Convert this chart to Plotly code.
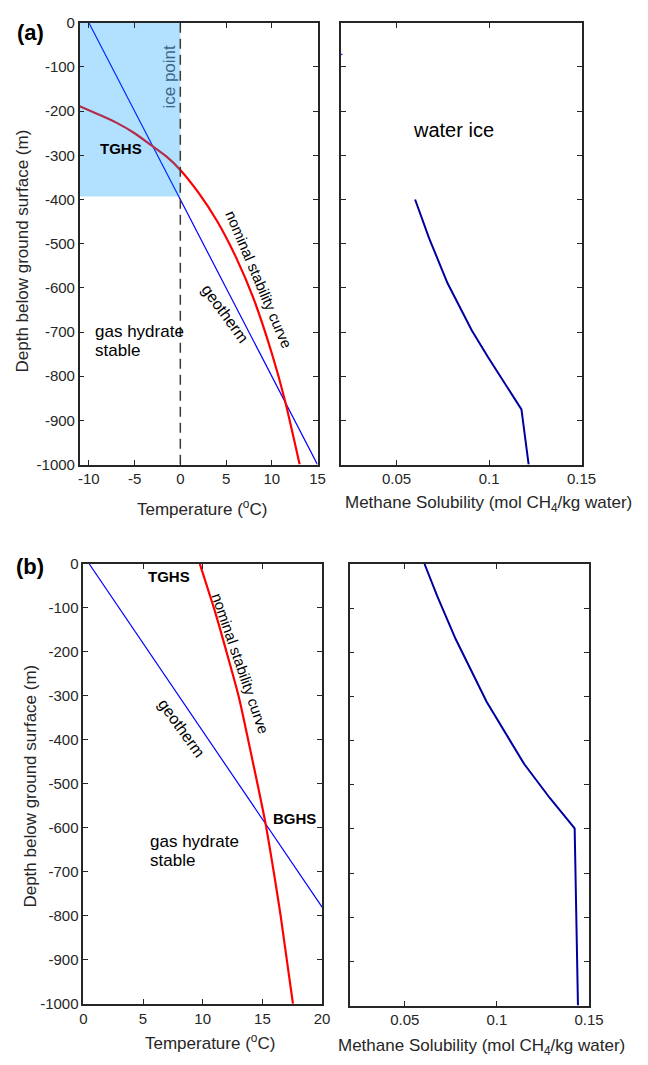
import plotly.graph_objects as go

# ---------------- data ----------------
# Panel (a): permafrost setting
geo_a_T = [-10, 15]
geo_a_d = [0, -1000]
stab_a_T = [-11.0, -9.0, -7.0, -5.0, -3.2, -1.5, 0.0, 2.0, 4.0, 6.0, 8.0, 10.0, 11.45, 13.05]
stab_a_d = [-189, -207, -226, -250, -277, -303, -333, -385, -448, -527, -624, -748, -856, -1000]
icept_T = [0, 0]
icept_d = [0, -1000]
frozen_T = [-11, 0, 0, -11, -11]
frozen_d = [0, 0, -393, -393, 0]
sol_a_x = [0.060, 0.0676, 0.0775, 0.0906, 0.0993, 0.1082, 0.1175, 0.1214]
sol_a_d = [-400, -488, -589, -696, -756, -815, -875, -1000]
sol_ice_x = [0.0200, 0.0207]
sol_ice_d = [-71, -72]

# Panel (b): marine setting
geo_b_T = [0.5, 20]
geo_b_d = [0, -780]
stab_b_T = [9.76, 11.05, 12.15, 13.05, 14.2, 15.25, 15.95, 16.53, 17.56]
stab_b_d = [0, -110, -215, -305, -450, -588, -700, -800, -1000]
sol_b_x = [0.0607, 0.0676, 0.0776, 0.0944, 0.1148, 0.1287, 0.1422, 0.1440]
sol_b_d = [0, -73, -170, -312, -453, -530, -599, -1000]

temp_ticks_a = [-10, -5, 0, 5, 10, 15]
temp_ticks_b = [0, 5, 10, 15, 20]
sol_ticks = [0.05, 0.1, 0.15]
sol_ticktext = ["0.05", "0.1", "0.15"]
depth_ticks = [0, -100, -200, -300, -400, -500, -600, -700, -800, -900, -1000]
depth_ticktext = [str(v) for v in depth_ticks]
temp_ticktext_a = [str(v) for v in temp_ticks_a]
temp_ticktext_b = [str(v) for v in temp_ticks_b]

# ---------------- figure ----------------
W, H = 648, 1065
FONT = "Liberation Sans, Arial, Helvetica, sans-serif"
AX = "#262626"
RED = "#ff0000"
BLUE = "#0000ff"
NAVY = "#0000a0"


def px_x(p):
    return p / W


def px_y(p):
    return 1 - p / H


fig = go.Figure()

# (a) left
fig.add_trace(go.Scatter(x=geo_a_T, y=geo_a_d, mode="lines",
                         line=dict(color=BLUE, width=1.2), xaxis="x", yaxis="y"))
fig.add_trace(go.Scatter(x=stab_a_T, y=stab_a_d, mode="lines",
                         line=dict(color=RED, width=2.2, shape="spline", smoothing=0.6),
                         xaxis="x", yaxis="y"))
fig.add_trace(go.Scatter(x=frozen_T, y=frozen_d, mode="lines", fill="toself",
                         fillcolor="rgba(0,152,255,0.30)", line=dict(width=0),
                         xaxis="x", yaxis="y"))
fig.add_trace(go.Scatter(x=icept_T, y=icept_d, mode="lines",
                         line=dict(color="#3a3a3a", width=1.5, dash="10px,6px"),
                         xaxis="x", yaxis="y"))
# (a) right
fig.add_trace(go.Scatter(x=sol_ice_x, y=sol_ice_d, mode="lines",
                         line=dict(color=BLUE, width=1.5), xaxis="x2", yaxis="y2"))
fig.add_trace(go.Scatter(x=sol_a_x, y=sol_a_d, mode="lines",
                         line=dict(color=NAVY, width=2), xaxis="x2", yaxis="y2"))
# (b) left
fig.add_trace(go.Scatter(x=geo_b_T, y=geo_b_d, mode="lines",
                         line=dict(color=BLUE, width=1.2), xaxis="x3", yaxis="y3"))
fig.add_trace(go.Scatter(x=stab_b_T, y=stab_b_d, mode="lines",
                         line=dict(color=RED, width=2.2, shape="spline", smoothing=0.6),
                         xaxis="x3", yaxis="y3"))
# (b) right
fig.add_trace(go.Scatter(x=sol_b_x, y=sol_b_d, mode="lines",
                         line=dict(color=NAVY, width=2), xaxis="x4", yaxis="y4"))

axis_common = dict(showline=True, mirror="allticks", ticks="inside", ticklen=5,
                   tickwidth=1.3, tickcolor=AX, linecolor=AX, linewidth=1.5,
                   showgrid=False, zeroline=False,
                   tickfont=dict(family=FONT, size=15, color=AX))

fig.update_layout(
    width=W, height=H, margin=dict(l=0, r=0, t=0, b=0),
    paper_bgcolor="white", plot_bgcolor="white", showlegend=False,
    font=dict(family=FONT, color="black"),
    xaxis=dict(axis_common, domain=[px_x(78), px_x(323)], range=[-11, 15],
               tickvals=temp_ticks_a, ticktext=temp_ticktext_a, anchor="y"),
    yaxis=dict(axis_common, domain=[px_y(463), px_y(14)], range=[-1000, 0],
               tickvals=depth_ticks, ticktext=depth_ticktext, anchor="x"),
    xaxis2=dict(axis_common, domain=[px_x(347.3), px_x(595)], range=[0.02, 0.15],
                tickvals=sol_ticks, ticktext=sol_ticktext, anchor="y2"),
    yaxis2=dict(axis_common, domain=[px_y(463), px_y(14)], range=[-1000, 0],
                tickvals=depth_ticks, showticklabels=False, anchor="x2"),
    xaxis3=dict(axis_common, domain=[px_x(81.7), px_x(327.7)], range=[0, 20],
                tickvals=temp_ticks_b, ticktext=temp_ticktext_b, anchor="y3"),
    yaxis3=dict(axis_common, domain=[px_y(1011), px_y(564)], range=[-1000, 0],
                tickvals=depth_ticks, ticktext=depth_ticktext, anchor="x3"),
    xaxis4=dict(axis_common, domain=[px_x(356), px_x(602.7)], range=[0.02, 0.15],
                tickvals=sol_ticks, ticktext=sol_ticktext, anchor="y4"),
    yaxis4=dict(axis_common, domain=[px_y(1012.7), px_y(564)], range=[-1000, 0],
                tickvals=depth_ticks, showticklabels=False, anchor="x4"),
)

ann = []


def label(text, x, y, xref, yref, size, angle=0, bold=False, color="black",
          xanchor="center", yanchor="middle"):
    t = f"<b>{text}</b>" if bold else text
    ann.append(dict(text=t, x=x, y=y, xref=xref, yref=yref, showarrow=False,
                    textangle=angle, xanchor=xanchor, yanchor=yanchor,
                    font=dict(family=FONT, size=size, color=color)))


# panel letters
label("(a)", px_x(27), px_y(24), "paper", "paper", 22, bold=True)
label("(b)", px_x(27), px_y(567), "paper", "paper", 22, bold=True)

# axis titles
TS = 17
label("Depth below ground surface (m)", px_x(19), px_y(246), "paper", "paper", TS, angle=-90, color=AX)
label("Depth below ground surface (m)", px_x(27), px_y(790), "paper", "paper", TS, angle=-90, color=AX)
label("Temperature (<sup>o</sup>C)", px_x(204), px_y(507), "paper", "paper", TS, color=AX)
label("Temperature (<sup>o</sup>C)", px_x(212), px_y(1050), "paper", "paper", TS, color=AX)
label("Methane Solubility (mol CH<sub>4</sub>/kg water)", px_x(499), px_y(503), "paper", "paper", TS, color=AX)
label("Methane Solubility (mol CH<sub>4</sub>/kg water)", px_x(492), px_y(1055), "paper", "paper", TS, color=AX)

# (a) in-plot labels
label("TGHS", -6.46, -285, "x", "y", 15, bold=True)
label("ice point", -1.14, -122, "x", "y", 17, angle=-90, color="#3b6584")
label("nominal stability curve", 8.6, -581, "x", "y", 15, angle=67)
label("geotherm", 4.87, -659, "x", "y", 16, angle=54)
label("gas hydrate", -9.54, -698, "x", "y", 17, xanchor="left")
label("stable", -9.54, -741, "x", "y", 17, xanchor="left")
label("water ice", 0.0805, -243, "x2", "y2", 20)

# (b) in-plot labels
label("TGHS", 7.18, -29, "x3", "y3", 15, bold=True)
label("nominal stability curve", 13.14, -227, "x3", "y3", 15, angle=71)
label("geotherm", 8.26, -373, "x3", "y3", 16, angle=54)
label("BGHS", 17.67, -579, "x3", "y3", 15, bold=True)
label("gas hydrate", 5.41, -630, "x3", "y3", 17, xanchor="left")
label("stable", 5.41, -673, "x3", "y3", 17, xanchor="left")

fig.update_layout(annotations=ann)

fig.write_html("out.html",
               config={"displayModeBar": False},
               post_script="document.body.style.margin='0';document.body.style.padding='0';document.body.style.overflow='hidden';")
